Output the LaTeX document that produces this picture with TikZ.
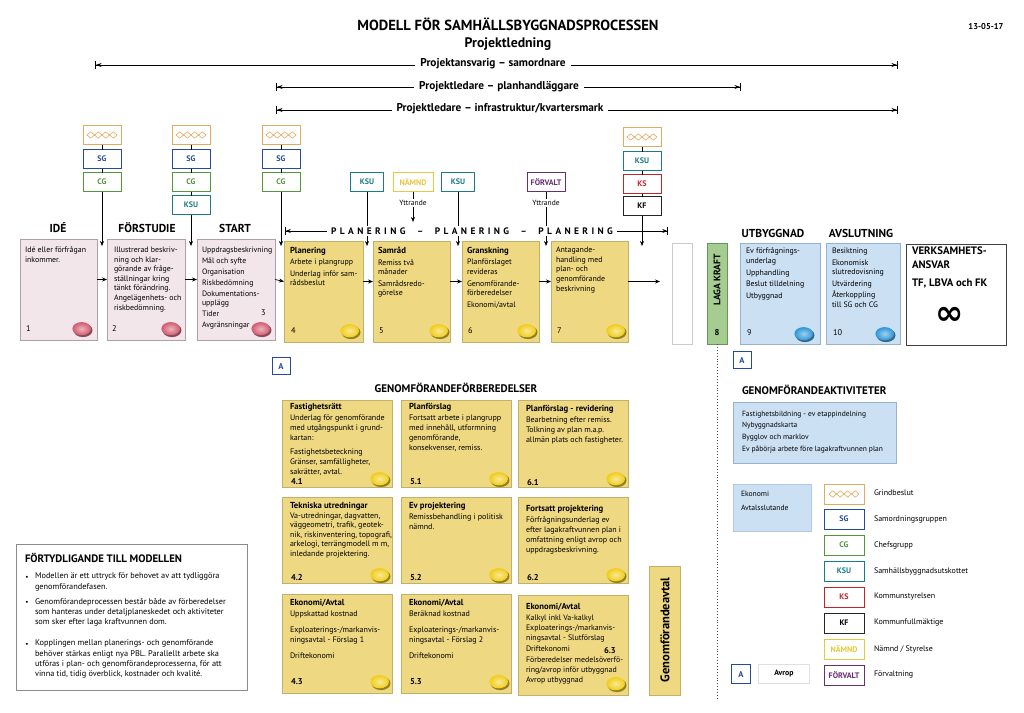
\documentclass[tikz,border=0pt]{standalone}
\usepackage{fontspec}
\setmainfont{PT Sans}
\newfontfamily\dejavu{DejaVu Sans}
\usetikzlibrary{arrows.meta,shadows}
\definecolor{pinkf}{RGB}{242,230,235}
\definecolor{pinkd}{RGB}{175,160,168}
\definecolor{yelf}{RGB}{238,216,130}
\definecolor{yeld}{RGB}{195,175,105}
\definecolor{bluef}{RGB}{203,224,243}
\definecolor{blued}{RGB}{150,178,205}
\definecolor{greenf}{RGB}{165,205,145}
\definecolor{greend}{RGB}{100,150,90}
\definecolor{grindc}{RGB}{228,170,95}
\definecolor{sgc}{RGB}{35,75,155}
\definecolor{cgc}{RGB}{85,150,60}
\definecolor{ksuc}{RGB}{25,125,135}
\definecolor{ksc}{RGB}{195,35,45}
\definecolor{namc}{RGB}{232,200,60}
\definecolor{forc}{RGB}{105,45,115}
\definecolor{pinkball}{RGB}{210,90,110}
\definecolor{yelball}{RGB}{240,205,25}
\definecolor{blueball}{RGB}{45,150,215}
\newcommand\boxat[5]{\node[#1,minimum width=#4pt,minimum height=#5pt] (#2) at (#3) {};}
\newcommand\mydisk[3]{\fill[#3!55!black, opacity=0.85] (#1+1,#2+1.3) ellipse [x radius=9.5, y radius=6.8];\shade[inner color=#3!45!white, outer color=#3] (#1-0.3,#2-0.3) ellipse [x radius=9.3, y radius=6.6];}
\newcommand\ttl[1]{{\fontsize{8.7}{10}\selectfont\bfseries #1}}
\begin{document}
\begin{tikzpicture}[x=1pt,y=-1pt,
  every node/.style={inner sep=0pt, outer sep=0pt},
  body/.style={anchor=north west, align=left, font=\fontsize{7.9}{9.6}\selectfont},
  gbody/.style={anchor=north west, align=left, font=\fontsize{8}{10}\selectfont},
  hd/.style={font=\fontsize{11.5}{12}\selectfont\bfseries},
  arr/.style={line width=0.7pt, -{Stealth[length=5pt,width=4pt]}},
  ln/.style={line width=0.7pt},
  gate/.style={draw, fill=white, line width=0.9pt, minimum width=38pt, minimum height=19pt, font=\fontsize{8}{9}\selectfont\bfseries},
  grind/.style={gate, draw=grindc, path picture={\draw[grindc, line width=0.6pt] ([xshift=-15pt]path picture bounding box.center) -- ++(3.75pt,3.2pt) -- ++(3.75pt,-3.2pt) -- ++(3.75pt,3.2pt) -- ++(3.75pt,-3.2pt) -- ++(3.75pt,3.2pt) -- ++(3.75pt,-3.2pt) -- ++(3.75pt,3.2pt) -- ++(3.75pt,-3.2pt) -- ++(-3.75pt,-3.2pt) -- ++(-3.75pt,3.2pt) -- ++(-3.75pt,-3.2pt) -- ++(-3.75pt,3.2pt) -- ++(-3.75pt,-3.2pt) -- ++(-3.75pt,3.2pt) -- ++(-3.75pt,-3.2pt) -- cycle;}},
  sg/.style={gate, draw=sgc, text=sgc},
  cg/.style={gate, draw=cgc, text=cgc},
  ksu/.style={gate, draw=ksuc, text=ksuc},
  ks/.style={gate, draw=ksc, text=ksc},
  kf/.style={gate, draw=black!85, text=black},
  nam/.style={gate, draw=namc, text=namc},
  forv/.style={gate, draw=forc, text=forc},
  procbox/.style={draw, anchor=north west, line width=0.6pt, drop shadow={shadow xshift=1.3pt, shadow yshift=-1.3pt, opacity=0.3}},
  pinkbox/.style={procbox, fill=pinkf, draw=pinkd},
  yelbox/.style={procbox, fill=yelf, draw=yeld},
  bluebox/.style={procbox, fill=bluef, draw=blued},
  greenbox/.style={procbox, fill=greenf, draw=greend},
  span/.style={line width=0.7pt, {Bar[width=8pt]Stealth[length=6pt,width=4pt]}-{Stealth[length=6pt,width=4pt]Bar[width=8pt]}},
  spantxt/.style={fill=white, inner xsep=5pt, inner ysep=1pt, font=\fontsize{11.3}{12}\selectfont\bfseries},
  abox/.style={draw=sgc, line width=0.8pt, fill=white, minimum width=18pt, minimum height=17pt, text=sgc, font=\fontsize{8.5}{9}\selectfont\bfseries},
  num/.style={anchor=west, font=\fontsize{8.3}{9}\selectfont},
  gnum/.style={anchor=west, font=\fontsize{8.5}{9}\selectfont\bfseries},
  legtxt/.style={anchor=west, font=\fontsize{8}{9}\selectfont},
]
\fill[white] (0,0) rectangle (1024,712);
\useasboundingbox (0,0) rectangle (1024,712);

% ---------- titles
\node[font=\fontsize{14.6}{15}\selectfont\bfseries] (title) at (508,24) {MODELL FÖR SAMHÄLLSBYGGNADSPROCESSEN};
\node[font=\fontsize{13.8}{14}\selectfont\bfseries] (sub) at (508,44) {Projektledning};
\node[font=\fontsize{8.5}{9}\selectfont\bfseries] (date) at (986,27) {13-05-17};

\coordinate (s1L) at (95,65); \coordinate (s1R) at (898,65);
\coordinate (s2L) at (276,87); \coordinate (s2R) at (741,87);
\coordinate (s3L) at (276,110); \coordinate (s3R) at (898,110);
\draw[span] (s1L) -- (s1R);
\draw[span] (s2L) -- (s2R);
\draw[span] (s3L) -- (s3R);
\node[spantxt] (s1t) at (493,64) {Projektansvarig – samordnare};
\node[spantxt] (s2t) at (499,87) {Projektledare – planhandläggare};
\node[spantxt] (s3t) at (500,109) {Projektledare – infrastruktur/kvartersmark};

% ---------- process boxes
\boxat{pinkbox}{b1}{20,239}{77}{101}
\boxat{pinkbox}{b2}{107,239}{78}{101}
\boxat{pinkbox}{b3}{197,239}{78}{101}
\boxat{yelbox}{b4}{284,241}{79}{101}
\boxat{yelbox}{b5}{373,241}{77}{101}
\boxat{yelbox}{b6}{462,241}{77}{101}
\boxat{yelbox}{b7}{551,241}{77}{101}
\node[draw=black!20, line width=0.6pt, anchor=north west, minimum width=20pt, minimum height=101pt] (bw) at (672,243) {};
\boxat{greenbox}{b8}{707,243}{20}{101}
\boxat{bluebox}{b9}{740,243}{80}{101}
\boxat{bluebox}{b10}{826,243}{74}{101}
\node[draw=black!75, line width=0.9pt, fill=white, anchor=north west, minimum width=100pt, minimum height=101pt] (bv) at (906,244) {};

% headings
\node[hd] (h1) at (58,228) {IDÉ};
\node[hd] (h2) at (147,228) {FÖRSTUDIE};
\node[hd] (h3) at (235,228) {START};
\node[hd] (h9) at (773,233) {UTBYGGNAD};
\node[hd] (h10) at (861,233) {AVSLUTNING};

% texts
\node[body] (t1) at (25,247) {Idé eller förfrågan\\inkommer.};
\node[body] (t2) at (114,247) {Illustrerad beskriv-\\ning och klar-\\görande av fråge-\\ställningar kring\\tänkt förändring.\\Angelägenhets- och\\riskbedömning.};
\node[body, font=\fontsize{7.8}{10.9}\selectfont] (t3) at (202,247) {Uppdragsbeskrivning\\Mål och syfte\\Organisation\\Riskbedömning\\Dokumentations-\\[-1.8pt]upplägg\\Tider\\Avgränsningar};
\node[body] (t4) at (290,247) {\ttl{Planering}\\[2pt]Arbete i plangrupp\\[2pt]Underlag inför sam-\\rådsbeslut};
\node[body] (t5) at (378,247) {\ttl{Samråd}\\[2pt]Remiss två\\månader\\[2pt]Samrådsredo-\\görelse};
\node[body] (t6) at (467,247) {\ttl{Granskning}\\[2pt]Planförslaget\\revideras\\[2pt]Genomförande-\\förberedelser\\[2pt]Ekonomi/avtal};
\node[body] (t7) at (556,247) {Antagande-\\handling med\\plan- och\\genomförande\\beskrivning};
\node[body] (t9) at (746,248) {Ev förfrågnings-\\underlag\\[2pt]Upphandling\\[2pt]Beslut tilldelning\\[2pt]Utbyggnad};
\node[body] (t10) at (832,248) {Besiktning\\[2pt]Ekonomisk\\slutredovisning\\[2pt]Utvärdering\\[2pt]Återkoppling\\till SG och CG};
\node[anchor=north west, align=left, font=\fontsize{10.8}{14}\selectfont\bfseries] (tv) at (912,247) {VERKSAMHETS-\\ANSVAR\\[4pt]TF, LBVA och FK};
\node[font=\dejavu\bfseries\fontsize{34}{34}\selectfont] (inf) at (950,316) {∞};
\node[rotate=90, font=\fontsize{9.5}{10}\selectfont\bfseries] (lk) at (717,280) {LAGA KRAFT};
\node[font=\fontsize{8.5}{9}\selectfont\bfseries] (n8) at (717,333) {8};

% numbers and disks
\node[num] (n1) at (26,329) {1};
\node[num] (n2) at (112,329) {2};
\node[num] (n3) at (261,313) {3};
\node[num] (n4) at (291,331) {4};
\node[num] (n5) at (379,331) {5};
\node[num] (n6) at (468,331) {6};
\node[num] (n7) at (557,331) {7};
\node[num] (n9) at (747,333) {9};
\node[num] (n10) at (833,333) {10};
\mydisk{82}{329}{pinkball}
\mydisk{171}{329}{pinkball}
\mydisk{261}{329}{pinkball}
\mydisk{350}{331}{yelball}
\mydisk{439}{331}{yelball}
\mydisk{527}{331}{yelball}
\mydisk{616}{331}{yelball}
\mydisk{804}{334}{blueball}
\mydisk{885}{334}{blueball}

% horizontal arrows between process boxes
\draw[arr] ([yshift=10pt]b1.east) -- ([yshift=10pt]b2.west);
\draw[arr] ([yshift=10pt]b2.east) -- ([yshift=10pt]b3.west);
\draw[arr] ([yshift=10pt]b3.east) -- ([yshift=10pt]b4.west);
\draw[arr] ([yshift=10pt]b4.east) -- ([yshift=10pt]b5.west);
\draw[arr] ([yshift=10pt]b5.east) -- ([yshift=10pt]b6.west);
\draw[arr] ([yshift=10pt]b6.east) -- ([yshift=10pt]b7.west);
\coordinate (e7) at (660,281.5);
\draw[arr] ([yshift=10pt]b7.east) -- (e7);

% ---------- gate columns
\node[grind] (g1a) at (102,135) {};
\node[sg] (g1b) at (102,159) {SG};
\node[cg] (g1c) at (102,182) {CG};
\node[grind] (g2a) at (191,135) {};
\node[sg] (g2b) at (191,159) {SG};
\node[cg] (g2c) at (191,182) {CG};
\node[ksu] (g2d) at (191,205) {KSU};
\node[grind] (g3a) at (281,135) {};
\node[sg] (g3b) at (281,159) {SG};
\node[cg] (g3c) at (281,182) {CG};
\node[grind] (g4a) at (642,137) {};
\node[ksu] (g4b) at (642,161) {KSU};
\node[ks] (g4c) at (642,184) {KS};
\node[kf] (g4d) at (642,206) {KF};
\draw[ln] (g1a) -- (g1b); \draw[ln] (g1b) -- (g1c);
\draw[ln] (g2a) -- (g2b); \draw[ln] (g2b) -- (g2c); \draw[ln] (g2c) -- (g2d);
\draw[ln] (g3a) -- (g3b); \draw[ln] (g3b) -- (g3c);
\draw[ln] (g4a) -- (g4b); \draw[ln] (g4b) -- (g4c); \draw[ln] (g4c) -- (g4d);
\node[ksu, minimum width=33pt] (m1) at (367,182) {KSU};
\node[nam, minimum width=40pt] (m2) at (413,182) {NÄMND};
\node[ksu, minimum width=33pt] (m3) at (458,182) {KSU};
\node[forv, minimum width=38pt] (m4) at (546,182) {FÖRVALT};

\coordinate (a1) at (102,246);
\coordinate (a2) at (191,246);
\coordinate (a3) at (281,246);
\coordinate (a4) at (367,246);
\coordinate (a5) at (413,222);
\coordinate (a6) at (458,246);
\coordinate (a7) at (546,246);
\coordinate (a8) at (642,246);
\draw[arr] (g1c) -- (a1);
\draw[arr] (g2d) -- (a2);
\draw[arr] (g3c) -- (a3);
\draw[arr] (m1) -- (a4);
\draw[arr] (m2) -- (a5);
\draw[arr] (m3) -- (a6);
\draw[arr] (m4) -- (a7);
\draw[arr] (g4d) -- (a8);
\node[fill=white, inner ysep=1pt, font=\fontsize{7.5}{8}\selectfont] (y1) at (413,203) {Yttrande};
\node[fill=white, inner ysep=1pt, font=\fontsize{7.5}{8}\selectfont] (y2) at (546,203) {Yttrande};

% planering arrow
\coordinate (plL) at (285,231); \coordinate (plR) at (668,231);
\draw[line width=0.7pt, {Bar[width=8pt]Stealth[length=5pt,width=4pt]}-{Stealth[length=5pt,width=4pt]Bar[width=8pt]}] (plL) -- (plR);
\node[fill=white, inner xsep=4pt, inner ysep=2pt, font=\fontsize{9.4}{10}\selectfont\bfseries\addfontfeature{LetterSpace=36}] (pl) at (472,231) {PLANERING\ \ –\ \ PLANERING\ \ –\ \ PLANERING};

% A boxes
\node[abox] (A1) at (281,366) {A};
\node[abox] (A2) at (742,360) {A};

% ---------- genomförandeförberedelser
\node[font=\fontsize{11}{12}\selectfont\bfseries] (gft) at (456,388) {GENOMFÖRANDEFÖRBEREDELSER};
\boxat{yelbox}{c41}{282,400}{110}{87}
\boxat{yelbox}{c51}{401,400}{110}{87}
\boxat{yelbox}{c61}{518,400}{110}{87}
\boxat{yelbox}{c42}{282,497}{110}{86}
\boxat{yelbox}{c52}{401,497}{110}{86}
\boxat{yelbox}{c62}{518,497}{110}{86}
\boxat{yelbox}{c43}{282,594}{110}{99}
\boxat{yelbox}{c53}{401,594}{110}{99}
\boxat{yelbox}{c63}{518,595}{110}{100}
\boxat{yelbox}{gav}{649,566}{31}{129}
\node[rotate=90, font=\fontsize{12.5}{13}\selectfont\bfseries] (gavt) at (665,630) {Genomförandeavtal};

\node[gbody] (u41) at (290,403) {\ttl{Fastighetsrätt}\\[1pt]Underlag för genomförande\\med utgångspunkt i grund-\\kartan:\\[4pt]Fastighetsbeteckning\\Gränser, samfälligheter,\\sakrätter, avtal.};
\node[gbody] (u51) at (409,403) {\ttl{Planförslag}\\[1pt]Fortsatt arbete i plangrupp\\med innehåll, utformning\\genomförande,\\konsekvenser, remiss.};
\node[gbody] (u61) at (526,405) {\ttl{Planförslag - revidering}\\[1pt]Bearbetning efter remiss.\\Tolkning av plan m.a.p.\\allmän plats och fastigheter.};
\node[gbody, font=\fontsize{8}{9.4}\selectfont] (u42) at (290,502) {\ttl{Tekniska utredningar}\\[1pt]Va-utredningar, dagvatten,\\väggeometri, trafik, geotek-\\nik, riskinventering, topografi,\\arkelogi, terrängmodell m m,\\inledande projektering.};
\node[gbody] (u52) at (409,502) {\ttl{Ev projektering}\\[1pt]Remissbehandling i politisk\\nämnd.};
\node[gbody] (u62) at (526,505) {\ttl{Fortsatt projektering}\\[1pt]Förfrågningsunderlag ev\\efter lagakraftvunnen plan i\\omfattning enligt avrop och\\uppdragsbeskrivning.};
\node[gbody] (u43) at (290,599) {\ttl{Ekonomi/Avtal}\\[1pt]Uppskattad kostnad\\[6pt]Exploaterings-/markanvis-\\ningsavtal - Förslag 1\\[6pt]Driftekonomi};
\node[gbody] (u53) at (409,599) {\ttl{Ekonomi/Avtal}\\[1pt]Beräknad kostnad\\[6pt]Exploaterings-/markanvis-\\ningsavtal - Förslag 2\\[6pt]Driftekonomi};
\node[gbody, font=\fontsize{7.9}{10.8}\selectfont] (u63) at (526,603) {\ttl{Ekonomi/Avtal}\\Kalkyl inkl Va-kalkyl\\Exploaterings-/markanvis-\\[-1pt]ningsavtal - Slutförslag\\Driftekonomi\\Förberedelser medelsöverfö-\\[-1pt]ring/avrop inför utbyggnad\\Avrop utbyggnad};
\node[gnum] (v41) at (291,482) {4.1};
\node[gnum] (v51) at (410,482) {5.1};
\node[gnum] (v61) at (527,483) {6.1};
\node[gnum] (v42) at (291,578) {4.2};
\node[gnum] (v52) at (410,578) {5.2};
\node[gnum] (v62) at (527,578) {6.2};
\node[gnum] (v43) at (291,682) {4.3};
\node[gnum] (v53) at (410,682) {5.3};
\node[gnum] (v63) at (604,651) {6.3};
\mydisk{380}{479}{yelball}
\mydisk{499}{479}{yelball}
\mydisk{616}{479}{yelball}
\mydisk{380}{575}{yelball}
\mydisk{499}{575}{yelball}
\mydisk{616}{575}{yelball}
\mydisk{380}{682}{yelball}
\mydisk{499}{682}{yelball}
\mydisk{616}{684}{yelball}

% ---------- förtydligande
\node[draw=black!45, line width=0.6pt, anchor=north west, minimum width=231pt, minimum height=146pt] (fb) at (16,544) {};
\node[anchor=north west, font=\fontsize{10.8}{11}\selectfont\bfseries] (fbt) at (25,553) {FÖRTYDLIGANDE TILL MODELLEN};
\node[anchor=north west, align=left, font=\fontsize{8.3}{10.2}\selectfont] (fb1) at (35,573) {Modellen är ett uttryck för behovet av att tydliggöra\\genomförandefasen.};
\node[anchor=north west, align=left, font=\fontsize{8.3}{10.2}\selectfont] (fb2) at (35,598) {Genomförandeprocessen består både av förberedelser\\som hanteras under detaljplaneskedet och aktiviteter\\som sker efter laga kraftvunnen dom.};
\node[anchor=north west, align=left, font=\fontsize{8.3}{10.2}\selectfont] (fb3) at (35,640) {Kopplingen mellan planerings- och genomförande\\behöver stärkas enligt nya PBL. Parallellt arbete ska\\utföras i plan- och genomförandeprocesserna, för att\\vinna tid, tidig överblick, kostnader och kvalité.};
\node[font=\fontsize{7}{8}\selectfont] (fd1) at (27,578) {•};
\node[font=\fontsize{7}{8}\selectfont] (fd2) at (27,603) {•};
\node[font=\fontsize{7}{8}\selectfont] (fd3) at (27,645) {•};

% ---------- right side
\coordinate (dotend) at (717,700);
\draw[dotted, line width=0.9pt, black!70] (b8.south) -- (dotend);
\node[anchor=west, font=\fontsize{11}{12}\selectfont\bfseries] (gat) at (742,390) {GENOMFÖRANDEAKTIVITETER};
\node[draw=blued, fill=bluef, line width=0.6pt, anchor=north west, minimum width=163pt, minimum height=61pt] (gab) at (733,402) {};
\node[anchor=north west, align=left, font=\fontsize{7.5}{11.6}\selectfont] (gatx) at (742,411) {Fastighetsbildning - ev etappindelning\\Nybyggnadskarta\\Bygglov och marklov\\Ev påbörja arbete före lagakraftvunnen plan};

% legend
\node[draw=blued!70, fill=bluef, line width=0.5pt, anchor=north west, minimum width=78pt, minimum height=47pt] (lb) at (733,484) {};
\node[anchor=north west, align=left, font=\fontsize{7.6}{14}\selectfont] (lbt) at (741,491) {Ekonomi\\Avtalsslutande};
\node[grind, minimum width=40pt, minimum height=20pt] (L1) at (844,494) {};
\node[sg, minimum width=40pt, minimum height=20pt] (L2) at (844,519) {SG};
\node[cg, minimum width=40pt, minimum height=20pt] (L3) at (844,545) {CG};
\node[ksu, minimum width=40pt, minimum height=20pt] (L4) at (844,571) {KSU};
\node[ks, minimum width=40pt, minimum height=20pt] (L5) at (844,597) {KS};
\node[kf, minimum width=40pt, minimum height=20pt] (L6) at (844,623) {KF};
\node[nam, minimum width=40pt, minimum height=20pt] (L7) at (844,649) {NÄMND};
\node[forv, minimum width=40pt, minimum height=20pt] (L8) at (844,675) {FÖRVALT};
\node[legtxt] (l1) at (874,493) {Grindbeslut};
\node[legtxt] (l2) at (874,519) {Samordningsgruppen};
\node[legtxt] (l3) at (874,545) {Chefsgrupp};
\node[legtxt] (l4) at (874,571) {Samhällsbyggnadsutskottet};
\node[legtxt] (l5) at (874,597) {Kommunstyrelsen};
\node[legtxt] (l6) at (874,623) {Kommunfullmäktige};
\node[legtxt] (l7) at (874,649) {Nämnd / Styrelse};
\node[legtxt] (l8) at (874,675) {Förvaltning};
\node[abox, minimum width=19pt, minimum height=19pt] (A3) at (741,674) {A};
\node[draw=black!12, line width=0.5pt, minimum width=51pt, minimum height=19pt, font=\fontsize{7.8}{8}\selectfont\bfseries] (avr) at (784,674) {Avrop};
\end{tikzpicture}
\end{document}
